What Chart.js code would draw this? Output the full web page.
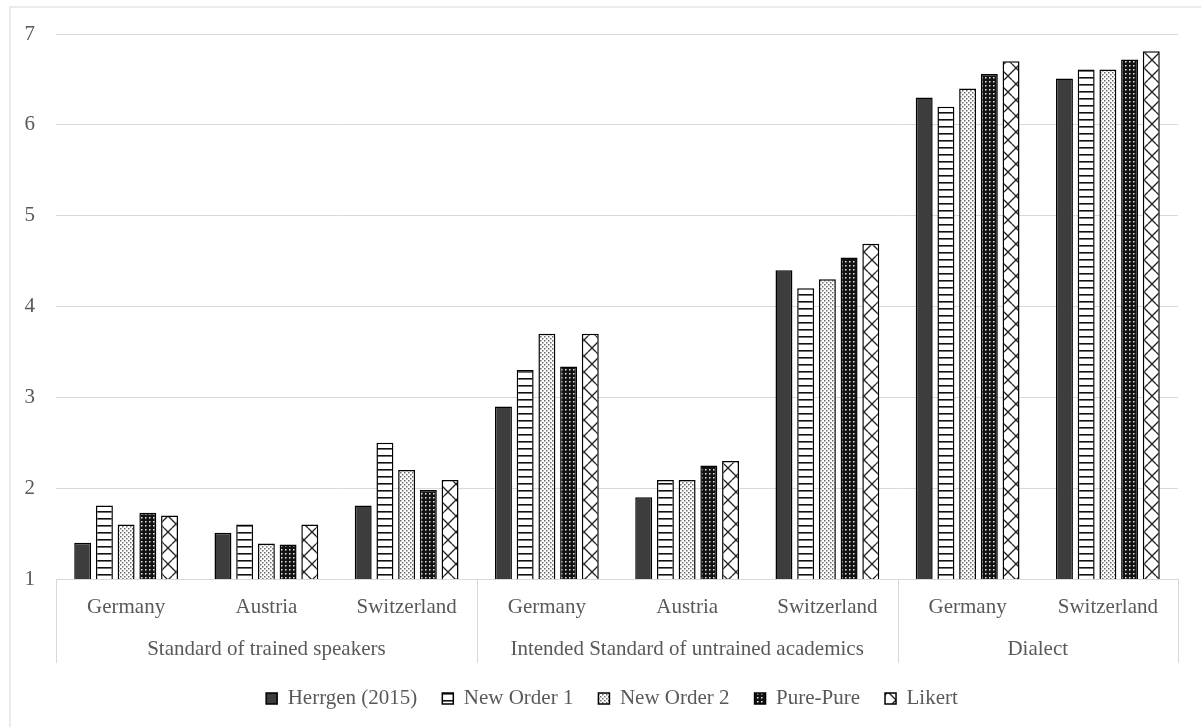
<!DOCTYPE html>
<html>
<head>
<meta charset="utf-8">
<script src="https://cdn.jsdelivr.net/npm/chart.js@4.4.1/dist/chart.umd.min.js"></script>
<style>
    html, body { margin: 0; padding: 0; background: #fff; overflow: hidden; }
    #wrap { position: relative; width: 1201px; height: 727px; }
    #frame {
        position: absolute; left: 9px; top: 6px; width: 1300px; height: 900px;
        border-left: 2px solid #ebebeb; border-top: 2px solid #ebebeb;
    }
    canvas { position: absolute; left: 0; top: 0; }
</style>
</head>
<body>
<div id="wrap">
    <div id="frame"></div>
    <canvas id="chart" width="1201" height="727"></canvas>
</div>
<script>
// ========== DATOS ==========
const categories = ["Germany", "Austria", "Switzerland", "Germany", "Austria", "Switzerland", "Germany", "Switzerland"];
const groups = ["Standard of trained speakers", "Intended Standard of untrained academics", "Dialect"];
const groupSizes = [3, 3, 2];
const seriesNames = ["Herrgen (2015)", "New Order 1", "New Order 2", "Pure-Pure", "Likert"];
const herrgen = [1.40, 1.51, 1.81, 2.90, 1.90, 4.40, 6.30, 6.51];
const newOrder1 = [1.81, 1.60, 2.50, 3.30, 2.09, 4.20, 6.20, 6.61];
const newOrder2 = [1.60, 1.39, 2.20, 3.70, 2.09, 4.30, 6.40, 6.61];
const purePure = [1.73, 1.38, 1.98, 3.34, 2.25, 4.54, 6.56, 6.72];
const likert = [1.70, 1.60, 2.09, 3.70, 2.30, 4.69, 6.70, 6.81];
const yTicks = [1, 2, 3, 4, 5, 6, 7];

const FONT = "'Liberation Serif', 'Times New Roman', serif";
const TEXT = "#595959";
const GRID = "#d9d9d9";

// ========== PATRONES ==========
function makePattern(w, h, draw) {
    const c = document.createElement("canvas");
    c.width = w;
    c.height = h;
    const g = c.getContext("2d");
    draw(g, w, h);
    return g.createPattern(c, "repeat");
}

const solidDark = "#3d3d3d";
const stripes = makePattern(8, 7, (g, w, h) => {
    g.fillStyle = "#fff";
    g.fillRect(0, 0, w, h);
    g.fillStyle = "#111";
    g.fillRect(0, 0, w, 1.6);
});
const lightDots = makePattern(4, 4, (g, w, h) => {
    g.fillStyle = "#fff";
    g.fillRect(0, 0, w, h);
    g.fillStyle = "#6a6a6a";
    g.fillRect(0, 0, 1.5, 1.5);
    g.fillRect(2, 2, 1.5, 1.5);
});
const darkDots = makePattern(4, 4, (g, w, h) => {
    g.fillStyle = "#121212";
    g.fillRect(0, 0, w, h);
    g.fillStyle = "#e8e8e8";
    g.fillRect(1, 1, 1.5, 1.5);
});
// zigzag: ganchos diagonales como en la trama de Excel
const zigzag = makePattern(16, 16, (g, w, h) => {
    g.fillStyle = "#fff";
    g.fillRect(0, 0, w, h);
    g.strokeStyle = "#222";
    g.lineWidth = 1.3;
    g.beginPath();
    g.moveTo(0, 12); g.lineTo(8, 4); g.lineTo(16, 12);
    g.moveTo(8, 4); g.lineTo(4, 0);
    g.moveTo(8, 4); g.lineTo(12, 0);
    g.moveTo(4, 16); g.lineTo(0, 12);
    g.moveTo(12, 16); g.lineTo(16, 12);
    g.stroke();
});
const fills = [solidDark, stripes, lightDots, darkDots, zigzag];
const values = [herrgen, newOrder1, newOrder2, purePure, likert];

// ========== ETIQUETAS DEL EJE X (dos niveles) ==========
const multiLevelAxis = {
    id: "multiLevelAxis",
    afterLayout(chart) {
        // leyenda centrada un poco a la derecha, como en el original
        if (chart.legend) {
            chart.legend.left += 23;
            chart.legend.right += 23;
        }
    },
    afterDraw(chart) {
        const { ctx, chartArea, scales } = chart;
        const x = scales.x;
        const step = x.getPixelForValue(1) - x.getPixelForValue(0);
        const bottom = chartArea.bottom;
        ctx.save();
        ctx.fillStyle = TEXT;
        ctx.font = "21px " + FONT;
        ctx.textAlign = "center";
        ctx.textBaseline = "middle";
        categories.forEach((c, i) => {
            ctx.fillText(c, x.getPixelForValue(i), bottom + 28);
        });
        ctx.strokeStyle = GRID;
        ctx.lineWidth = 1;
        let start = 0;
        const edges = [start];
        groups.forEach((g, k) => {
            const end = start + groupSizes[k];
            const left = x.getPixelForValue(start) - step / 2;
            const right = x.getPixelForValue(end - 1) + step / 2;
            ctx.fillText(g, (left + right) / 2, bottom + 70);
            edges.push(end);
            start = end;
        });
        edges.forEach((e) => {
            const px = Math.round(x.getPixelForValue(e) - step / 2) + 0.5;
            ctx.beginPath();
            ctx.moveTo(px, bottom);
            ctx.lineTo(px, bottom + 84);
            ctx.stroke();
        });
        ctx.restore();
    },
};

// ========== GRÁFICO ==========
const ctx = document.getElementById("chart").getContext("2d");
new Chart(ctx, {
    type: "bar",
    data: {
        labels: categories,
        datasets: seriesNames.map((name, i) => ({
            label: name,
            data: values[i],
            backgroundColor: fills[i],
            borderColor: "#000",
            borderWidth: 1.5,
            borderSkipped: false,
            categoryPercentage: 0.774,
            barPercentage: 0.78,
        })),
    },
    options: {
        responsive: false,
        animation: false,
        devicePixelRatio: 1,
        layout: { padding: { top: 34, right: 23, bottom: 8, left: 0 } },
        plugins: {
            tooltip: { enabled: false },
            legend: {
                position: "bottom",
                labels: {
                    boxWidth: 11,
                    boxHeight: 11,
                    padding: 25,
                    color: TEXT,
                    font: { family: FONT, size: 21 },
                },
            },
        },
        scales: {
            x: {
                grid: { display: false },
                border: { display: false },
                ticks: { display: false },
                afterFit: (s) => { s.height = 84; },
            },
            y: {
                min: yTicks[0],
                max: yTicks[yTicks.length - 1],
                afterBuildTicks: (s) => { s.ticks = yTicks.map((v) => ({ value: v })); },
                grid: { color: GRID, lineWidth: 1, drawTicks: false },
                border: { display: false },
                ticks: {
                    color: TEXT,
                    padding: 21,
                    font: { family: FONT, size: 21 },
                },
                afterFit: (s) => { s.width = 56; },
            },
        },
    },
    plugins: [multiLevelAxis],
});
</script>
</body>
</html>
